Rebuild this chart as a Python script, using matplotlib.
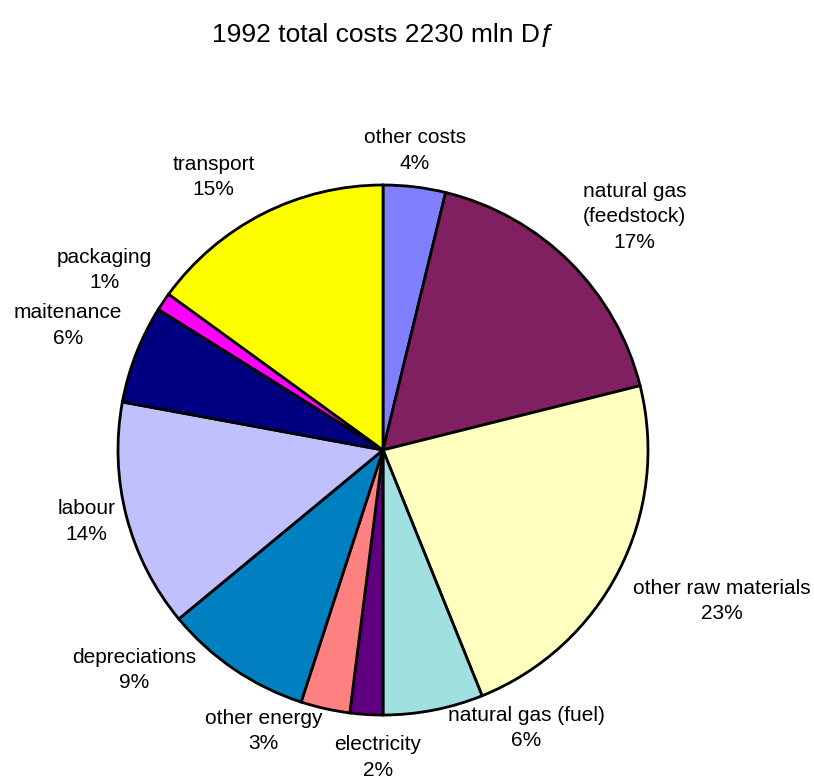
import matplotlib
matplotlib.use("Agg")
import matplotlib.pyplot as plt

plt.rcParams['font.family'] = ['Liberation Sans', 'DejaVu Sans']

# Cost shares 1992 (percent of total), clockwise from 12 o'clock
categories = ['other costs', 'natural gas\n(feedstock)', 'other raw materials',
              'natural gas (fuel)', 'electricity', 'other energy', 'depreciations',
              'labour', 'maitenance', 'packaging', 'transport']
shares = [3.8, 17.3, 22.8, 6.1, 2.0, 3.0, 9.0, 13.9, 6.0, 1.1, 15.0]
colors = ['#8080ff', '#802060', '#ffffc0', '#a0e0e0', '#600080', '#ff8080',
          '#0080c0', '#c0c0ff', '#000080', '#ff00ff', '#ffff00']
title = '1992 total costs 2230 mln D\u0192'

# label block centres, in pie-radius units relative to the centre
label_pos = [(0.12, 1.13), (0.95, 0.88), (1.28, -0.57), (0.54, -1.05),
             (-0.02, -1.16), (-0.45, -1.06), (-0.94, -0.83), (-1.12, -0.27),
             (-1.19, 0.47), (-1.05, 0.68), (-0.64, 1.03)]

fig = plt.figure(figsize=(8.14, 7.78), dpi=100)
ax = fig.add_axes([0, 0, 1, 1])

wedges, _ = ax.pie(shares, colors=colors, startangle=90, counterclock=False,
                   radius=1.0, wedgeprops=dict(edgecolor='black', linewidth=2.0))

for name, val, (x, y) in zip(categories, shares, label_pos):
    ax.text(x, y, '%s\n%d%%' % (name, round(val)), ha='center', va='center',
            fontsize=15, linespacing=1.42)

ax.text(0, 1.566, title, ha='center', va='center', fontsize=19)

R = 265.0
ax.set_xlim(-383 / R, (814 - 383) / R)
ax.set_ylim(-(778 - 450) / R, 450 / R)
ax.set_aspect('auto')
ax.axis('off')

fig.savefig('out.png', dpi=100)
